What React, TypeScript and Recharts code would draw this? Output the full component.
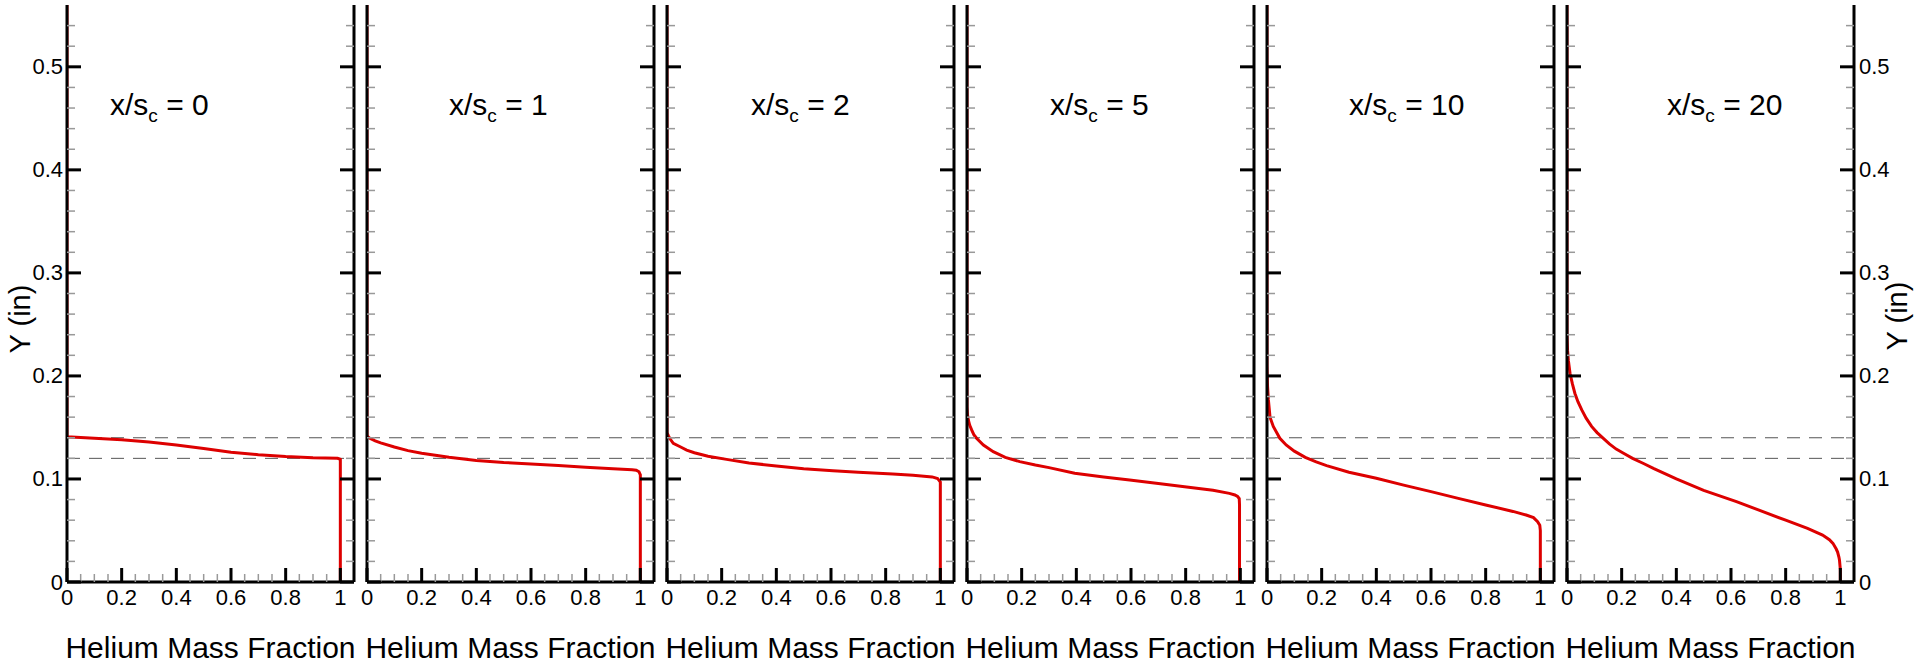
import { LineChart, Line, XAxis, YAxis, ReferenceLine } from "recharts";

// streamwise stations, x/s_c
const stations = ["0", "1", "2", "5", "10", "20"];

const xTicks = [0, 0.05, 0.1, 0.15, 0.2, 0.25, 0.3, 0.35, 0.4, 0.45, 0.5, 0.55, 0.6, 0.65, 0.7, 0.75, 0.8, 0.85, 0.9, 0.95, 1];
const yTicks = [0, 0.02, 0.04, 0.06, 0.08, 0.1, 0.12, 0.14, 0.16, 0.18, 0.2, 0.22, 0.24, 0.26, 0.28, 0.3, 0.32, 0.34, 0.36, 0.38, 0.4, 0.42, 0.44, 0.46, 0.48, 0.5, 0.52, 0.54];
const slotY = [0.14, 0.12];

// helium mass fraction profiles (fraction vs Y in inches)
const frac0 = [0, 0, 0.1, 0.2, 0.3, 0.4, 0.5, 0.6, 0.7, 0.8, 0.9, 0.99, 1.0, 1.0];
const y0 = [0.56, 0.141, 0.1395, 0.138, 0.1358, 0.133, 0.1295, 0.126, 0.1235, 0.1217, 0.1205, 0.12, 0.119, 0];

const frac1 = [0, 0, 0.005, 0.01, 0.03, 0.05, 0.1, 0.15, 0.2, 0.3, 0.4, 0.5, 0.6, 0.7, 0.8, 0.9, 0.97, 0.985, 0.995, 1.0, 1.0];
const y1 = [0.56, 0.142, 0.1405, 0.1395, 0.137, 0.135, 0.131, 0.1275, 0.125, 0.121, 0.118, 0.116, 0.1146, 0.113, 0.1113, 0.11, 0.109, 0.1085, 0.107, 0.104, 0];

const frac2 = [0, 0, 0.005, 0.011, 0.023, 0.05, 0.072, 0.1, 0.15, 0.218, 0.3, 0.4, 0.5, 0.607, 0.7, 0.826, 0.9, 0.97, 0.99, 1.0, 1.0];
const y2 = [0.56, 0.145, 0.142, 0.139, 0.1346, 0.131, 0.128, 0.1255, 0.122, 0.119, 0.1155, 0.1126, 0.11, 0.108, 0.1065, 0.1049, 0.1035, 0.102, 0.1005, 0.097, 0];

const frac3 = [0, 0, 0.002, 0.005, 0.01, 0.017, 0.025, 0.035, 0.06, 0.096, 0.14, 0.193, 0.25, 0.3, 0.394, 0.5, 0.595, 0.7, 0.796, 0.9, 0.96, 0.98, 0.99, 0.996, 0.997, 0.997];
const y3 = [0.56, 0.17, 0.162, 0.157, 0.152, 0.1476, 0.143, 0.1395, 0.133, 0.1265, 0.121, 0.1168, 0.1135, 0.111, 0.1055, 0.102, 0.099, 0.0955, 0.0925, 0.089, 0.086, 0.0845, 0.083, 0.081, 0.075, 0];

const frac4 = [0, 0, 0.002, 0.005, 0.011, 0.023, 0.047, 0.07, 0.1, 0.14, 0.18, 0.218, 0.3, 0.4, 0.5, 0.6, 0.7, 0.8, 0.9, 0.948, 0.975, 0.99, 0.998, 1.0, 1.0];
const y4 = [0.56, 0.21, 0.19, 0.177, 0.16, 0.151, 0.1395, 0.133, 0.127, 0.121, 0.1165, 0.113, 0.1065, 0.1007, 0.094, 0.0877, 0.0812, 0.0748, 0.0685, 0.065, 0.0625, 0.0586, 0.055, 0.05, 0];

const frac5 = [0, 0, 0.002, 0.005, 0.011, 0.02, 0.029, 0.04, 0.054, 0.07, 0.09, 0.11, 0.133, 0.155, 0.18, 0.21, 0.24, 0.28, 0.318, 0.4, 0.5, 0.62, 0.7, 0.8, 0.88, 0.935, 0.96, 0.973, 0.985, 0.99, 0.995, 0.997, 1.0, 1.0];
const y5 = [0.56, 0.24, 0.225, 0.215, 0.2026, 0.192, 0.183, 0.175, 0.167, 0.159, 0.151, 0.145, 0.1395, 0.134, 0.129, 0.1245, 0.12, 0.115, 0.11, 0.1, 0.089, 0.078, 0.07, 0.06, 0.052, 0.0456, 0.041, 0.0375, 0.032, 0.029, 0.024, 0.021, 0.012, 0];

const fracs = [frac0, frac1, frac2, frac3, frac4, frac5];
const ys = [y0, y1, y2, y3, y4, y5];

const FONT = '"Liberation Sans", Arial, Helvetica, sans-serif';
const PLOT_L = 67;
const STEP = 300;
const AX_L = 67;
const AX_R = 61;
const titleDx = [43, 82, 84, 83, 82, 100];

const majorX = (v: number) => Math.round(v * 20) % 4 === 0;
const majorY = (v: number) => Math.round(v * 50) % 5 === 0;

const tickStyle = (major: boolean) => ({
  stroke: major ? "#000" : "#999",
  strokeWidth: major ? 3 : 1.5,
});

const BottomTick = ({ x, y, payload }: any) => {
  const m = majorX(payload.value);
  return (
    <g>
      <line x1={x} x2={x} y1={y} y2={y - (m ? 14 : 8)} {...tickStyle(m)} />
      {m && (
        <text x={x} y={y + 23} textAnchor="middle" fontSize={22} fontFamily={FONT} fill="#000">
          {String(payload.value)}
        </text>
      )}
    </g>
  );
};

const TopTick = ({ x, y, payload }: any) => {
  const m = majorX(payload.value);
  return <line x1={x} x2={x} y1={y} y2={y + (m ? 14 : 8)} {...tickStyle(m)} />;
};

const LeftTick = ({ x, y, payload, show }: any) => {
  const m = majorY(payload.value);
  return (
    <g>
      <line x1={x} x2={x + (m ? 14 : 8)} y1={y} y2={y} {...tickStyle(m)} />
      {show && m && (
        <text x={x - 4} y={y + 7.5} textAnchor="end" fontSize={22} fontFamily={FONT} fill="#000">
          {String(payload.value)}
        </text>
      )}
    </g>
  );
};

const RightTick = ({ x, y, payload, show }: any) => {
  const m = majorY(payload.value);
  return (
    <g>
      <line x1={x} x2={x - (m ? 14 : 8)} y1={y} y2={y} {...tickStyle(m)} />
      {show && m && (
        <text x={x + 5} y={y + 7.5} textAnchor="start" fontSize={22} fontFamily={FONT} fill="#000">
          {String(payload.value)}
        </text>
      )}
    </g>
  );
};

const axisLine = { stroke: "#000", strokeWidth: 3 };

function Panel({ i }: { i: number }) {
  const data = fracs[i].map((f, k) => ({ x: f, y: ys[i][k] }));
  return (
    <div style={{ position: "absolute", left: PLOT_L + i * STEP - AX_L, top: 0 }}>
      <LineChart width={AX_L + 287 + AX_R} height={664} data={data}
        margin={{ top: 5, right: 0, bottom: 0, left: 0 }}>
        <XAxis xAxisId="b" dataKey="x" type="number" domain={[0, 1.05]} allowDataOverflow
          ticks={xTicks} interval={0} height={82} tickSize={0} tickMargin={0}
          axisLine={axisLine} tickLine={false} tick={BottomTick}
          label={{ value: "Helium Mass Fraction", position: "insideBottom", offset: 6, fontSize: 30, fill: "#000", fontFamily: FONT }} />
        <XAxis xAxisId="t" dataKey="x" type="number" orientation="top" domain={[0, 1.05]} allowDataOverflow
          ticks={xTicks} interval={0} height={0} tickSize={0} tickMargin={0}
          axisLine={axisLine} tickLine={false} tick={TopTick} />
        <YAxis yAxisId="l" type="number" domain={[0, 0.56]} allowDataOverflow
          ticks={yTicks} interval={0} width={AX_L} tickSize={0} tickMargin={0}
          axisLine={axisLine} tickLine={false} tick={(p: any) => <LeftTick {...p} show={i === 0} />} />
        <YAxis yAxisId="r" type="number" orientation="right" domain={[0, 0.56]} allowDataOverflow
          ticks={yTicks} interval={0} width={AX_R} tickSize={0} tickMargin={0}
          axisLine={axisLine} tickLine={false} tick={(p: any) => <RightTick {...p} show={i === 5} />} />
        {slotY.map((v) => (
          <ReferenceLine key={v} xAxisId="b" yAxisId="l" y={v} stroke="#555" strokeWidth={1} strokeDasharray="13 9" />
        ))}
        <Line xAxisId="b" yAxisId="l" type="linear" dataKey="y" stroke="#dd0000" strokeWidth={3}
          dot={false} activeDot={false} isAnimationActive={false} />
      </LineChart>
    </div>
  );
}

export default function App() {
  return (
    <div style={{ position: "absolute", left: 0, top: 0, width: 1915, height: 664, background: "#fff" }}>
      {stations.map((_, i) => <Panel key={i} i={i} />)}
      <svg width={1915} height={664} style={{ position: "absolute", left: 0, top: 0, pointerEvents: "none" }}>
        {stations.map((s, i) => (
          <text key={s} x={PLOT_L + i * STEP + titleDx[i]} y={115} fontSize={30} fontFamily={FONT} fill="#000">
            x/s<tspan fontSize={19} dy={7}>c</tspan><tspan dy={-7}>{" = " + s}</tspan>
          </text>
        ))}
        <text transform="translate(20,319) rotate(-90)" textAnchor="middle" dominantBaseline="central"
          fontSize={29} fontFamily={FONT} fill="#000">Y (in)</text>
        <text transform="translate(1897,316) rotate(-90)" textAnchor="middle" dominantBaseline="central"
          fontSize={29} fontFamily={FONT} fill="#000">Y (in)</text>
      </svg>
    </div>
  );
}
